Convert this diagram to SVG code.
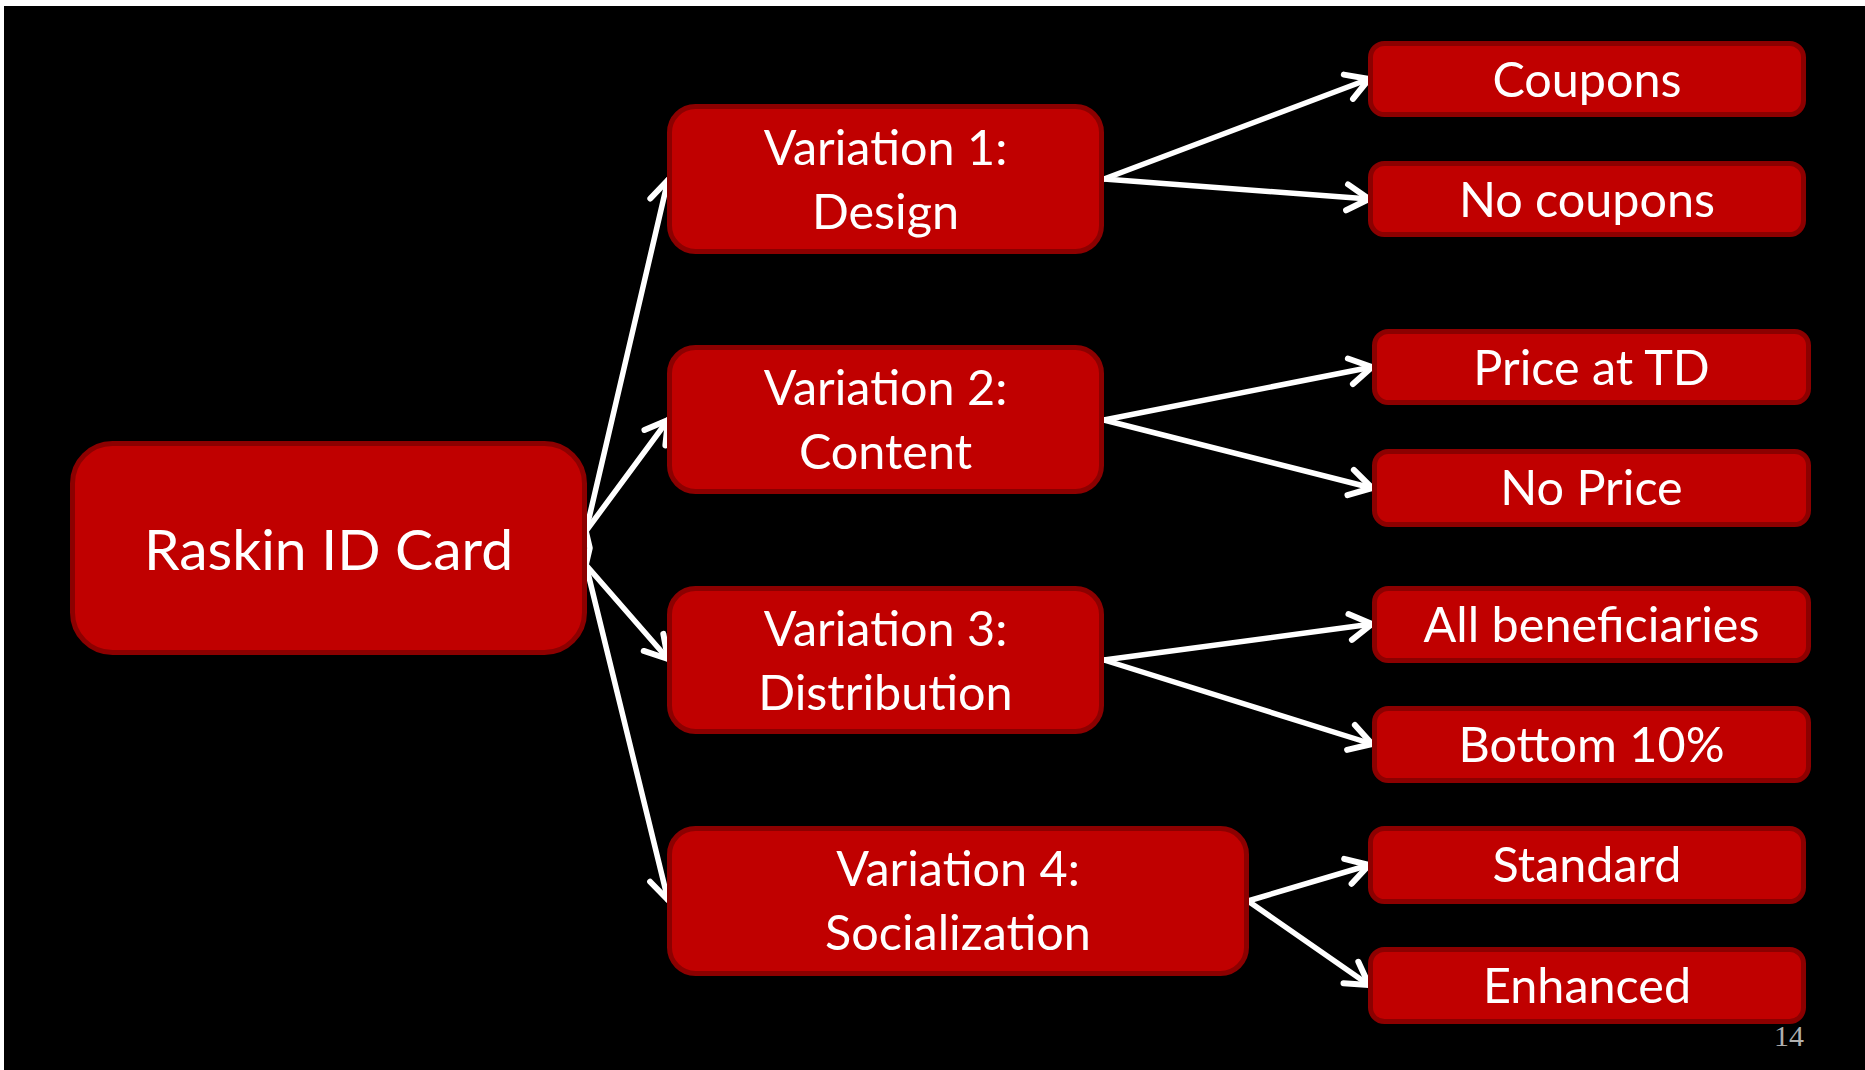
<svg xmlns="http://www.w3.org/2000/svg" width="1865" height="1070" viewBox="0 0 1865 1070">
  <style>
    .box { fill: #c00000; stroke: #8c0000; stroke-width: 5; }
    .lbl { fill: #ffffff; font-family: Lato, "Open Sans", "Liberation Sans", sans-serif; font-size: 48.5px; text-anchor: middle; }
    .big { font-size: 57px; }
    .conn { stroke: #ffffff; stroke-width: 5.5; fill: none; stroke-linecap: round; stroke-linejoin: round; }
    .num { fill: #b0b0b0; font-family: "Liberation Serif", serif; font-size: 30px; text-anchor: end; }
  </style>
  <defs>
    <marker id="arr" markerUnits="userSpaceOnUse" markerWidth="40" markerHeight="40" viewBox="-30 -20 40 40" refX="0" refY="0" orient="auto">
      <path d="M-22,-13 L0,0 L-22,13" fill="none" stroke="#ffffff" stroke-width="6" stroke-linecap="round" stroke-linejoin="round"/>
    </marker>
  </defs>
  <rect x="0" y="0" width="1865" height="1070" fill="#ffffff"/>
  <rect x="4" y="6" width="1861" height="1064" fill="#000000"/>

  <g id="connectors">
    <polyline class="conn" points="586,531 590,548 586,565"/>
    <line class="conn" x1="586" y1="531" x2="668" y2="180" marker-end="url(#arr)"/>
    <line class="conn" x1="586" y1="531" x2="668" y2="420" marker-end="url(#arr)"/>
    <line class="conn" x1="586" y1="565" x2="668" y2="659" marker-end="url(#arr)"/>
    <line class="conn" x1="586" y1="565" x2="668" y2="900" marker-end="url(#arr)"/>
    <line class="conn" x1="1104" y1="179" x2="1369" y2="79" marker-end="url(#arr)"/>
    <line class="conn" x1="1104" y1="179" x2="1369" y2="199" marker-end="url(#arr)"/>
    <line class="conn" x1="1104" y1="420" x2="1372" y2="367" marker-end="url(#arr)"/>
    <line class="conn" x1="1104" y1="420" x2="1372" y2="488" marker-end="url(#arr)"/>
    <line class="conn" x1="1104" y1="660" x2="1372" y2="624" marker-end="url(#arr)"/>
    <line class="conn" x1="1104" y1="660" x2="1372" y2="744" marker-end="url(#arr)"/>
    <line class="conn" x1="1248" y1="901" x2="1369" y2="865" marker-end="url(#arr)"/>
    <line class="conn" x1="1248" y1="901" x2="1369" y2="985" marker-end="url(#arr)"/>
  </g>

  <g id="raskin">
    <rect class="box" x="72.5" y="443.5" width="512" height="209" rx="40"/>
    <text class="lbl big" x="328.5" y="570">Raskin ID Card</text>
  </g>

  <g id="var1">
    <rect class="box" x="669.5" y="106.5" width="432" height="145" rx="26"/>
    <text class="lbl" x="885.5" y="165">Variation 1:</text>
    <text class="lbl" x="885.5" y="229">Design</text>
  </g>
  <g id="var2">
    <rect class="box" x="669.5" y="347.5" width="432" height="144" rx="26"/>
    <text class="lbl" x="885.5" y="405">Variation 2:</text>
    <text class="lbl" x="885.5" y="469">Content</text>
  </g>
  <g id="var3">
    <rect class="box" x="669.5" y="588.5" width="432" height="143" rx="26"/>
    <text class="lbl" x="885.5" y="646">Variation 3:</text>
    <text class="lbl" x="885.5" y="710">Distribution</text>
  </g>
  <g id="var4">
    <rect class="box" x="669.5" y="828.5" width="577" height="145" rx="26"/>
    <text class="lbl" x="958" y="886">Variation 4:</text>
    <text class="lbl" x="958" y="950">Socialization</text>
  </g>

  <g id="coupons">
    <rect class="box" x="1370.5" y="43.5" width="433" height="71" rx="14"/>
    <text class="lbl" x="1587" y="97">Coupons</text>
  </g>
  <g id="nocoupons">
    <rect class="box" x="1370.5" y="163.5" width="433" height="71" rx="14"/>
    <text class="lbl" x="1587" y="217">No coupons</text>
  </g>
  <g id="price">
    <rect class="box" x="1374.5" y="331.5" width="434" height="71" rx="14"/>
    <text class="lbl" x="1591.5" y="385">Price at TD</text>
  </g>
  <g id="noprice">
    <rect class="box" x="1374.5" y="451.5" width="434" height="73" rx="14"/>
    <text class="lbl" x="1591.5" y="505">No Price</text>
  </g>
  <g id="allben">
    <rect class="box" x="1374.5" y="588.5" width="434" height="72" rx="14"/>
    <text class="lbl" x="1591.5" y="642">All beneficiaries</text>
  </g>
  <g id="bottom10">
    <rect class="box" x="1374.5" y="708.5" width="434" height="72" rx="14"/>
    <text class="lbl" x="1591.5" y="762">Bottom 10%</text>
  </g>
  <g id="standard">
    <rect class="box" x="1370.5" y="828.5" width="433" height="73" rx="14"/>
    <text class="lbl" x="1587" y="882">Standard</text>
  </g>
  <g id="enhanced">
    <rect class="box" x="1370.5" y="949.5" width="433" height="72" rx="14"/>
    <text class="lbl" x="1587" y="1003">Enhanced</text>
  </g>

  <text class="num" x="1804" y="1046">14</text>
</svg>
